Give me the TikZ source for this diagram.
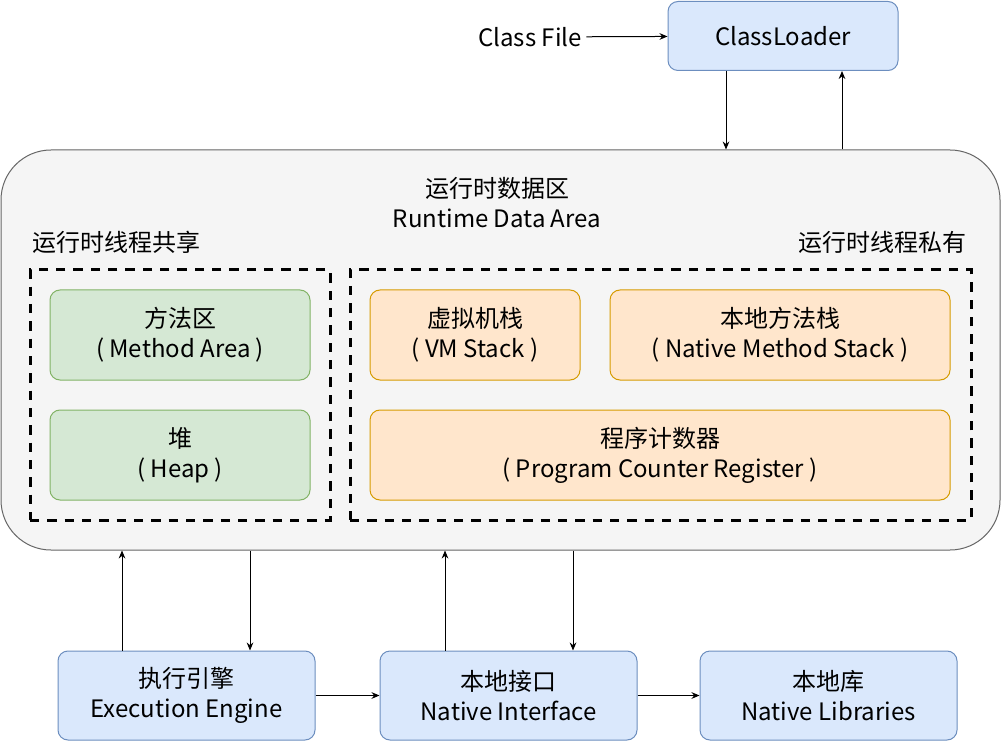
\documentclass[tikz,border=0pt]{standalone}
\usepackage{fontspec}
\setmainfont{Noto Sans CJK SC}
\usepackage{color}
\usepackage{tikz}
\usetikzlibrary{shapes,arrows.meta,positioning}

\definecolor{bluefill}{HTML}{DAE8FC}
\definecolor{bluedraw}{HTML}{6C8EBF}
\definecolor{greenfill}{HTML}{D5E8D4}
\definecolor{greendraw}{HTML}{82B366}
\definecolor{orangefill}{HTML}{FFE6CC}
\definecolor{orangedraw}{HTML}{D79B00}
\definecolor{areafill}{HTML}{F5F5F5}
\definecolor{areadraw}{HTML}{666666}

\tikzset{
	txt/.style={font=\fontsize{18}{22.5}\selectfont, align=center},
	box/.style={txt, rounded corners=7.5pt, inner sep=0pt, line width=0.75pt},
	bluebox/.style={box, draw=bluedraw, fill=bluefill, minimum width=192.75pt, minimum height=66.75pt},
	greenbox/.style={box, draw=greendraw, fill=greenfill, minimum width=195pt, minimum height=67.5pt},
	orangebox/.style={box, draw=orangedraw, fill=orangefill, minimum height=67.5pt},
	dashbox/.style={draw=black, line width=2.25pt, dash pattern=on 7pt off 6pt, minimum height=187.5pt, inner sep=0pt},
	link/.style={-{Stealth[length=6pt,width=5pt]}, line width=0.75pt, draw=black}
}

\begin{document}
\begin{tikzpicture}[x=0.75pt,y=-0.75pt]
				\fill [white] (0,0) rectangle (1002,741);
				\useasboundingbox (0,0) rectangle (1002,741);

				\node [box, draw=bluedraw, fill=bluefill, minimum width=172.5pt, minimum height=51.75pt] (loader) at (783,36) {ClassLoader};
				\node [txt] (file) at (530,37) {Class File};

				\node [draw=areadraw, fill=areafill, line width=0.75pt, rounded corners=37.5pt, minimum width=749.25pt, minimum height=300pt] (rda) at (500.5,350) {};
				\node [txt] (rdatitle) at (497,203) {运行时数据区\\Runtime Data Area};
				\node [txt, anchor=west, inner sep=0pt] (shared) at (32,242) {运行时线程共享};
				\node [txt, anchor=east, inner sep=0pt] (private) at (967,242) {运行时线程私有};

				\node [dashbox, minimum width=225pt]    (sharedbox)  at (180,395) {};
				\node [dashbox, minimum width=465.75pt] (privatebox) at (660.5,395) {};

				\node [greenbox] (method) at (180,335) {方法区\\( Method Area )};
				\node [greenbox] (heap)   at (180,455) {堆\\( Heap )};

				\node [orangebox, minimum width=157.5pt] (vmstack) at (475,335) {虚拟机栈\\( VM Stack )};
				\node [orangebox, minimum width=255pt]   (nstack)  at (780,335) {本地方法栈\\( Native Method Stack )};
				\node [orangebox, minimum width=435pt]   (pcreg)   at (660,455) {程序计数器\\( Program Counter Register )};

				\node [bluebox] (engine) at (186.5,695.5) {执行引擎\\Execution Engine};
				\node [bluebox] (native) at (508.5,695.5) {本地接口\\Native Interface};
				\node [bluebox] (libs)   at (828.5,695.5) {本地库\\Native Libraries};

				\draw [link] (file) -- (loader);
				\draw [link] ([xshift=-42.75pt]loader.south) -- ([xshift=-42.75pt]loader.south |- rda.north);
				\draw [link] ([xshift=44.25pt]loader.south |- rda.north) -- ([xshift=44.25pt]loader.south);

				\draw [link] ([xshift=-48.375pt]engine.north) -- ([xshift=-48.375pt]engine.north |- rda.south);
				\draw [link] ([xshift=47.625pt]engine.north |- rda.south) -- ([xshift=47.625pt]engine.north);
				\draw [link] ([xshift=-47.625pt]native.north) -- ([xshift=-47.625pt]native.north |- rda.south);
				\draw [link] ([xshift=48.375pt]native.north |- rda.south) -- ([xshift=48.375pt]native.north);

				\draw [link] (engine) -- (native);
				\draw [link] (native) -- (libs);

				\end{tikzpicture}
\end{document}
